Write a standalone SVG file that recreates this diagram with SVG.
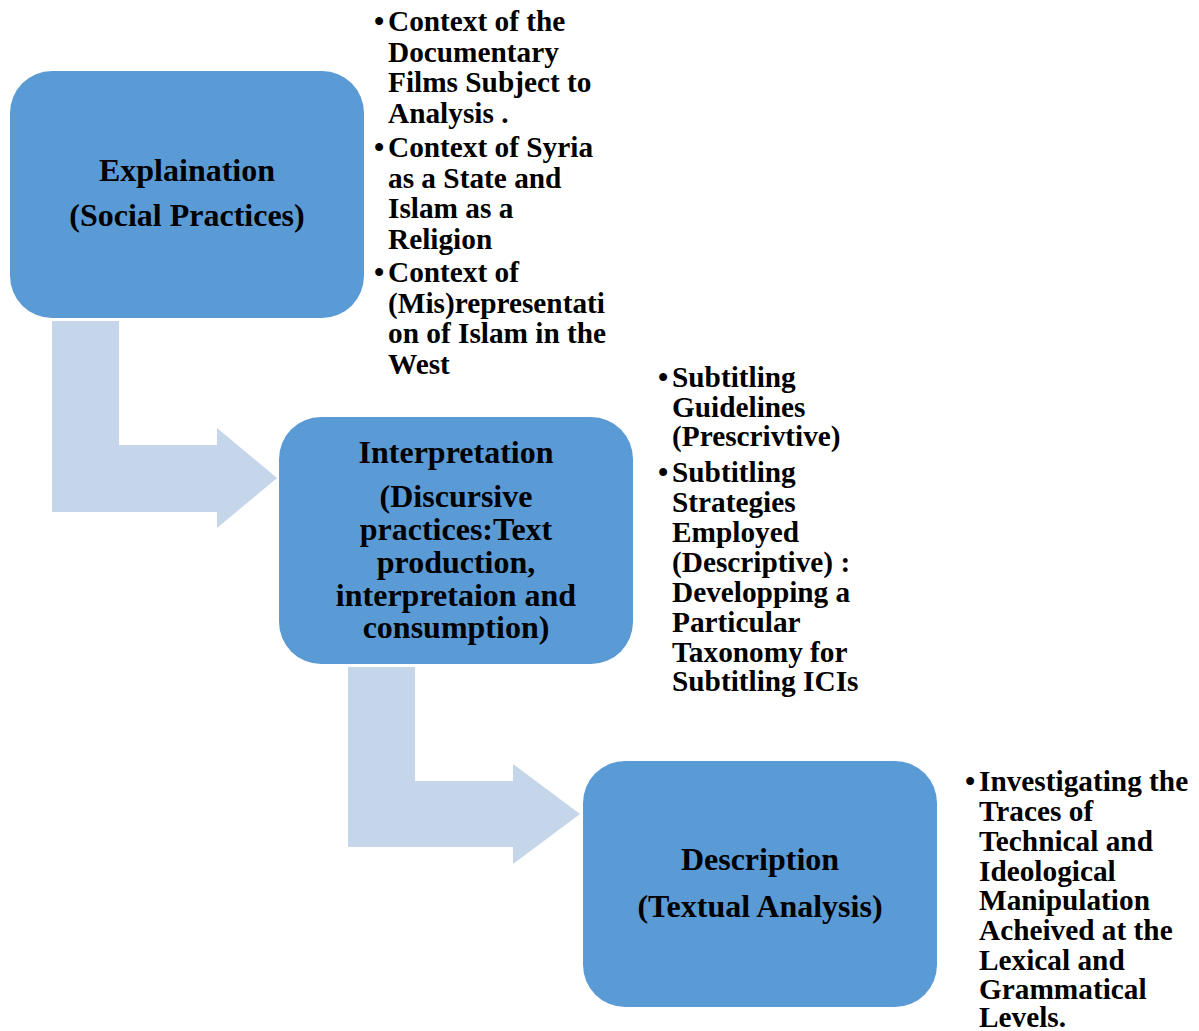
<svg xmlns="http://www.w3.org/2000/svg" width="1199" height="1031" viewBox="0 0 1199 1031">
  <style>
    .box { fill: #5B9BD5; }
    .arrow { fill: #C5D5EA; }
    text { font-family: "Liberation Serif", "Times New Roman", serif; font-weight: bold; fill: #000; }
    .title { font-size: 32px; text-anchor: middle; }
    .bullet { font-size: 29.3px; }
  </style>
  <rect width="1199" height="1031" fill="#FFFFFF"/>

  <!-- bent connector arrows -->
  <g id="connectors">
    <path class="arrow" d="M52,321 H119 V445 H217 V428 L277,478 L217,528 V512 H52 Z"/>
    <path class="arrow" d="M348,667 H415 V781 H513 V764 L580,814 L513,864 V847 H348 Z"/>
  </g>

  <!-- stage 1 -->
  <g id="explanation">
    <rect class="box" x="10" y="71" width="354" height="247" rx="42" ry="42"/>
    <text class="title" x="187" y="181">Explaination</text>
    <text class="title" x="187" y="226">(Social Practices)</text>
  </g>
  <g id="explanation-notes">
    <text class="bullet" x="374" y="31">•</text>
    <text class="bullet" x="388" y="31">Context of the</text>
    <text class="bullet" x="388" y="62">Documentary</text>
    <text class="bullet" x="388" y="92">Films Subject to</text>
    <text class="bullet" x="388" y="123">Analysis .</text>
    <text class="bullet" x="374" y="157">•</text>
    <text class="bullet" x="388" y="157">Context of Syria</text>
    <text class="bullet" x="388" y="188">as a State and</text>
    <text class="bullet" x="388" y="218">Islam as a</text>
    <text class="bullet" x="388" y="249">Religion</text>
    <text class="bullet" x="374" y="282">•</text>
    <text class="bullet" x="388" y="282">Context of</text>
    <text class="bullet" x="388" y="313">(Mis)representati</text>
    <text class="bullet" x="388" y="343">on of Islam in the</text>
    <text class="bullet" x="388" y="374">West</text>
  </g>

  <!-- stage 2 -->
  <g id="interpretation">
    <rect class="box" x="279" y="417" width="354" height="247" rx="42" ry="42"/>
    <text class="title" x="456" y="463">Interpretation</text>
    <text class="title" x="456" y="507">(Discursive</text>
    <text class="title" x="456" y="540">practices:Text</text>
    <text class="title" x="456" y="573">production,</text>
    <text class="title" x="456" y="606">interpretaion and</text>
    <text class="title" x="456" y="638">consumption)</text>
  </g>
  <g id="interpretation-notes">
    <text class="bullet" x="658" y="387">•</text>
    <text class="bullet" x="672" y="387">Subtitling</text>
    <text class="bullet" x="672" y="417">Guidelines</text>
    <text class="bullet" x="672" y="446">(Prescrivtive)</text>
    <text class="bullet" x="658" y="482">•</text>
    <text class="bullet" x="672" y="482">Subtitling</text>
    <text class="bullet" x="672" y="512">Strategies</text>
    <text class="bullet" x="672" y="542">Employed</text>
    <text class="bullet" x="672" y="572">(Descriptive) :</text>
    <text class="bullet" x="672" y="602">Developping a</text>
    <text class="bullet" x="672" y="632">Particular</text>
    <text class="bullet" x="672" y="662">Taxonomy for</text>
    <text class="bullet" x="672" y="691">Subtitling ICIs</text>
  </g>

  <!-- stage 3 -->
  <g id="description">
    <rect class="box" x="583" y="761" width="354" height="246" rx="42" ry="42"/>
    <text class="title" x="760" y="870">Description</text>
    <text class="title" x="760" y="917">(Textual Analysis)</text>
  </g>
  <g id="description-notes">
    <text class="bullet" x="965" y="791">•</text>
    <text class="bullet" x="979" y="791">Investigating the</text>
    <text class="bullet" x="979" y="821">Traces of</text>
    <text class="bullet" x="979" y="851">Technical and</text>
    <text class="bullet" x="979" y="881">Ideological</text>
    <text class="bullet" x="979" y="910">Manipulation</text>
    <text class="bullet" x="979" y="940">Acheived at the</text>
    <text class="bullet" x="979" y="970">Lexical and</text>
    <text class="bullet" x="979" y="999">Grammatical</text>
    <text class="bullet" x="979" y="1027">Levels.</text>
  </g>
</svg>
